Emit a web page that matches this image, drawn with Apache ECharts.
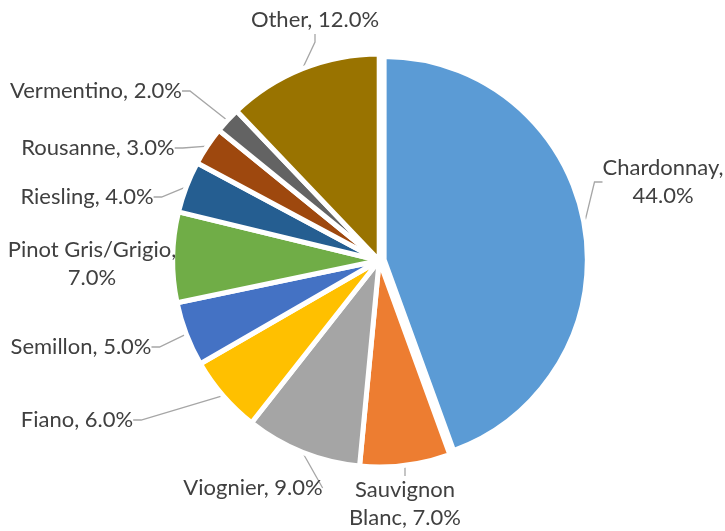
<!DOCTYPE html>
<html><head><meta charset="utf-8">
<script src="https://cdn.jsdelivr.net/npm/echarts@6/dist/echarts.min.js"></script>
<style>html,body{margin:0;padding:0;background:#fff}#c{width:725px;height:531px}</style>
</head><body><div id="c"></div>
<script>
const categories = ['Chardonnay','Sauvignon Blanc','Viognier','Fiano','Semillon','Pinot Gris/Grigio','Riesling','Rousanne','Vermentino','Other'];
const shares = [44.0, 7.0, 9.0, 6.0, 5.0, 7.0, 4.0, 3.0, 2.0, 12.0];
const colors = ['#5B9BD5','#ED7D31','#A5A5A5','#FFC000','#4472C4','#70AD47','#255E91','#9E480E','#636363','#997300'];
// label block centres (layout only)
const labelCenters = [[663,182],[405,504],[253,488],[77,420],[81,347],[92,264],[87,197],[98,148],[96,91],[315,20]];
const wrapAt = {'Chardonnay':'comma','Pinot Gris/Grigio':'comma','Sauvignon Blanc':'space'};
const exploded = 'Chardonnay';
const pieCenter = [379.2, 260.5];
const explodeDist = 5;

function labelText(name, v){
  const pct = v.toFixed(1) + '%';
  if (wrapAt[name] === 'comma') return name + ',\n' + pct;
  if (wrapAt[name] === 'space') { const i = name.indexOf(' '); return name.slice(0,i) + '\n' + name.slice(i+1) + ', ' + pct; }
  return name + ', ' + pct;
}

function makeData(showExploded){
  return categories.map(function(n, i){
    const visible = (n === exploded) === showExploded;
    return {
      name: n, value: shares[i],
      itemStyle: visible ? {color: colors[i]} : {color: 'transparent', borderWidth: 0},
      label: {show: visible},
      labelLine: {show: visible}
    };
  });
}

// direction of the exploded slice's bisector (clockwise from 12 o'clock)
const total = shares.reduce(function(a,b){return a+b;}, 0);
const exIdx = categories.indexOf(exploded);
let before = 0; for (let i = 0; i < exIdx; i++) before += shares[i];
const midAng = (before + shares[exIdx]/2) / total * 2 * Math.PI;
const exCenter = [pieCenter[0] + explodeDist*Math.sin(midAng), pieCenter[1] - explodeDist*Math.cos(midAng)];

const common = {
  type: 'pie',
  startAngle: 90,
  clockwise: true,
  avoidLabelOverlap: false,
  selectedMode: false,
  itemStyle: {borderColor: '#ffffff', borderWidth: 5},
  label: {
    position: 'outside',
    fontFamily: 'Lato', fontSize: 22, color: '#404040', lineHeight: 28,
    formatter: function(p){ return labelText(p.name, p.value); }
  },
  labelLine: {length: 8, length2: 8, lineStyle: {color: '#A6A6A6', width: 1.3}},
  labelLayout: function(p){
    const c = labelCenters[p.dataIndex];
    return {x: c[0], y: c[1], align: 'center', verticalAlign: 'middle'};
  },
  emphasis: {disabled: true},
  animation: false
};

const chart = echarts.init(document.getElementById('c'), null, {renderer: 'canvas'});
chart.setOption({
  animation: false,
  series: [
    Object.assign({}, common, {center: pieCenter, radius: 206.5, data: makeData(false)}),
    Object.assign({}, common, {center: exCenter, radius: 203.2, data: makeData(true)})
  ]
});
</script>
</body></html>
